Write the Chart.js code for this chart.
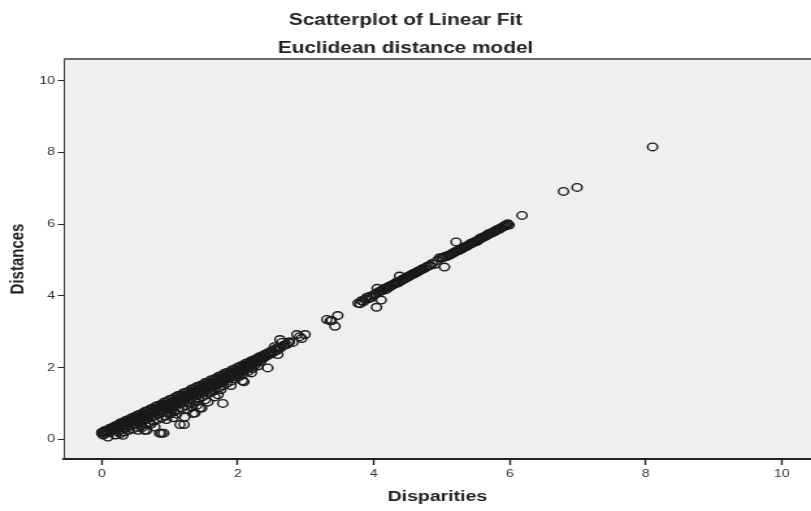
<!DOCTYPE html>
<html>
<head>
<meta charset="utf-8">
<title>Scatterplot of Linear Fit</title>
<script src="https://cdn.jsdelivr.net/npm/chart.js@4.4.1/dist/chart.umd.min.js"></script>
<style>
  html, body { margin: 0; padding: 0; background: #fff; }
  /* the reference is stretched sideways, so the canvas is drawn narrow and widened */
  #scatter { display: block; width: 811px !important; height: 511px !important; }
</style>
</head>
<body>
<canvas id="scatter" width="624" height="511" style="width:811px;height:511px"></canvas>
<script>
// [disparity, distance] pairs
const upperRow = [
  [0.00,0.19],[0.04,0.24],[0.08,0.26],[0.12,0.31],[0.16,0.33],[0.20,0.38],[0.24,0.41],[0.28,0.46],
  [0.32,0.48],[0.36,0.53],[0.40,0.55],[0.44,0.60],[0.48,0.62],[0.52,0.67],[0.56,0.70],[0.60,0.73],
  [0.64,0.78],[0.68,0.80],[0.72,0.85],[0.76,0.87],[0.80,0.93],[0.84,0.95],[0.88,0.98],[0.92,1.04],
  [0.96,1.05],[1.00,1.11],[1.04,1.13],[1.08,1.17],[1.12,1.22],[1.16,1.23],[1.20,1.29],[1.24,1.31],
  [1.28,1.34],[1.32,1.40],[1.36,1.41],[1.40,1.47],[1.44,1.49],[1.48,1.52],[1.52,1.58],[1.56,1.59],
  [1.60,1.65],[1.64,1.67],[1.68,1.70],[1.72,1.76],[1.76,1.78],[1.80,1.83],[1.84,1.86],[1.88,1.88],
  [1.92,1.94],[1.96,1.96],[2.00,2.01],[2.04,2.04],[2.08,2.07],[2.12,2.12],[2.16,2.14],[2.20,2.19],
  [2.24,2.22],[2.28,2.25],[2.32,2.30],[2.36,2.33],[2.40,2.37],[2.45,2.42],[2.50,2.47],[2.55,2.52],
  [2.60,2.56]
];
const innerRowA = [
  [0.03,0.20],[0.07,0.22],[0.11,0.26],[0.15,0.29],[0.19,0.32],[0.23,0.35],[0.27,0.39],[0.31,0.42],
  [0.35,0.46],[0.39,0.48],[0.43,0.52],[0.47,0.56],[0.51,0.59],[0.55,0.62],[0.59,0.66],[0.63,0.69],
  [0.67,0.72],[0.71,0.76],[0.75,0.79],[0.79,0.83],[0.83,0.86],[0.87,0.90],[0.91,0.93],[0.95,0.97],
  [0.99,1.00],[1.03,1.04],[1.07,1.07],[1.11,1.11],[1.15,1.14],[1.19,1.18],[1.23,1.22],[1.27,1.25],
  [1.31,1.29],[1.35,1.32],[1.39,1.36],[1.43,1.40],[1.47,1.43],[1.51,1.47],[1.55,1.51],[1.59,1.54],
  [1.63,1.58],[1.67,1.62],[1.71,1.66],[1.75,1.69],[1.79,1.73],[1.83,1.77],[1.87,1.81],[1.91,1.84],
  [1.95,1.88],[1.99,1.92],[2.03,1.96],[2.07,2.00],[2.11,2.04],[2.15,2.08],[2.19,2.12],[2.23,2.16],
  [2.27,2.20],[2.31,2.24],[2.35,2.28],[2.39,2.32],[2.44,2.37],[2.49,2.42],[2.56,2.47],[2.63,2.55],
  [2.69,2.63],[2.75,2.69]
];
const middleRow = [
  [0.02,0.12],[0.06,0.16],[0.10,0.19],[0.14,0.22],[0.18,0.25],[0.22,0.28],[0.26,0.32],[0.30,0.35],
  [0.34,0.38],[0.38,0.42],[0.42,0.45],[0.46,0.49],[0.50,0.51],[0.54,0.55],[0.58,0.58],[0.62,0.62],
  [0.66,0.65],[0.70,0.68],[0.74,0.72],[0.78,0.75],[0.82,0.79],[0.86,0.82],[0.90,0.86],[0.94,0.89],
  [0.98,0.92],[1.02,0.96],[1.06,1.00],[1.10,1.03],[1.14,1.07],[1.18,1.10],[1.22,1.14],[1.26,1.18],
  [1.30,1.21],[1.34,1.25],[1.38,1.28],[1.42,1.32],[1.46,1.36],[1.50,1.39],[1.54,1.43],[1.58,1.47],
  [1.62,1.50],[1.66,1.54],[1.70,1.58],[1.74,1.62],[1.78,1.65],[1.82,1.69],[1.86,1.73],[1.90,1.77],
  [1.94,1.81],[1.98,1.85],[2.02,1.89],[2.06,1.93],[2.10,1.98],[2.14,2.02],[2.18,2.06],[2.22,2.10],
  [2.26,2.14],[2.30,2.19],[2.34,2.23],[2.38,2.27],[2.42,2.31],[2.48,2.37],[2.53,2.43],[2.58,2.48]
];
const innerRowB = [
  [0.24,0.22],[0.30,0.27],[0.36,0.32],[0.43,0.37],[0.49,0.41],[0.55,0.46],[0.61,0.51],[0.67,0.56],
  [0.73,0.61],[0.79,0.66],[0.85,0.71],[0.91,0.77],[0.97,0.82],[1.03,0.88],[1.09,0.93],[1.15,0.99],
  [1.21,1.05],[1.27,1.11],[1.33,1.17],[1.39,1.22],[1.45,1.28],[1.51,1.34],[1.57,1.40],[1.63,1.45],
  [1.69,1.51],[1.75,1.57],[1.81,1.63],[1.87,1.69],[1.93,1.75],[1.99,1.81],[2.05,1.87],[2.12,1.94],
  [2.19,2.01],[2.26,2.08],[2.34,2.17]
];
const lowerRow = [
  [0.20,0.12],[0.27,0.16],[0.33,0.20],[0.40,0.25],[0.46,0.29],[0.52,0.33],[0.58,0.37],[0.64,0.42],
  [0.70,0.46],[0.76,0.51],[0.82,0.55],[0.88,0.60],[0.94,0.65],[1.00,0.70],[1.06,0.76],[1.12,0.82],
  [1.18,0.88],[1.24,0.94],[1.30,1.00],[1.36,1.06],[1.42,1.12],[1.48,1.18],[1.54,1.24],[1.60,1.30],
  [1.66,1.36],[1.72,1.43],[1.78,1.49],[1.84,1.56],[1.90,1.62],[1.96,1.68],[2.02,1.75],[2.08,1.82],
  [2.15,1.89],[2.22,1.97],[2.30,2.05]
];
const strays = [
  [0.00,0.17],[0.02,0.19],[0.09,0.06],[0.31,0.11],[0.53,0.25],[0.63,0.25],[0.66,0.25],[0.78,0.34],
  [0.85,0.17],[0.88,0.17],[0.91,0.17],[1.03,0.81],[1.15,0.41],[1.21,0.41],[1.22,0.62],[1.34,0.72],
  [1.37,0.73],[1.44,0.87],[1.47,0.87],[1.32,0.90],[1.56,1.04],[1.62,1.32],[1.71,1.24],[1.78,1.00],
  [2.07,1.63],[2.09,1.60],[2.44,1.99],[2.59,2.36],[2.54,2.58],[2.62,2.78],[2.65,2.70],[2.68,2.62],
  [2.72,2.64],[2.76,2.72],[2.81,2.70],[2.87,2.92],[2.91,2.86],[2.94,2.81],[2.99,2.92],
  [0.60,0.33],[0.72,0.42],[0.95,0.55],[1.05,0.60],[1.10,0.70],[1.26,0.83],[1.40,0.95],[1.52,1.10],
  [1.66,1.18],[1.75,1.38],[1.90,1.50],[2.20,1.85]
];
const upperBand = [
  [3.31,3.34],[3.36,3.30],[3.38,3.31],[3.43,3.15],[3.47,3.45],[3.77,3.79],[3.80,3.78],[3.85,3.84],
  [3.90,3.96],[3.93,3.92],[3.97,3.95],[4.04,3.68],[4.11,3.88],[4.02,4.05],[4.05,4.21],[4.08,4.12],
  [4.12,4.14],[4.15,4.20],[4.18,4.17],[4.21,4.25],[4.24,4.27],[4.27,4.30],[4.30,4.33],[4.33,4.37],
  [4.36,4.36],[4.38,4.55],[4.40,4.42],[4.43,4.47],[4.46,4.48],[4.49,4.53],[4.52,4.55],[4.55,4.58],
  [4.58,4.62],[4.61,4.63],[4.64,4.67],[4.67,4.70],[4.70,4.73],[4.74,4.76],[4.80,4.83],[4.86,4.90],
  [4.90,4.88],[4.93,4.98],[4.97,5.06],[5.04,4.80],[5.00,5.05],[5.05,5.10],[5.09,5.12],[5.13,5.15],
  [5.17,5.20],[5.21,5.50],[5.21,5.24],[5.25,5.26],[5.29,5.30],[5.33,5.35],[5.37,5.38],[5.41,5.44],
  [5.44,5.47],[5.48,5.50],[5.52,5.52],[5.55,5.58],[5.58,5.62],[5.62,5.64],[5.65,5.67],[5.68,5.72],
  [5.72,5.74],[5.75,5.77],[5.78,5.80],[5.81,5.84],[5.85,5.86],[5.88,5.90],[5.91,5.93],[5.94,5.95],
  [5.97,6.01],[5.99,5.97]
];
const upperBandInner = [
  [3.82,3.86],[3.87,3.90],[3.95,3.99],[4.00,4.02],[4.06,4.09],[4.10,4.13],[4.14,4.18],[4.19,4.22],
  [4.23,4.24],[4.26,4.29],[4.29,4.31],[4.32,4.34],[4.35,4.39],[4.39,4.41],[4.42,4.44],[4.45,4.47],
  [4.48,4.50],[4.51,4.53],[4.54,4.57],[4.57,4.59],[4.60,4.62],[4.63,4.66],[4.66,4.68],[4.69,4.72],
  [4.72,4.75],[4.77,4.80],[4.83,4.85],[5.02,5.07],[5.07,5.09],[5.11,5.13],[5.15,5.17],[5.19,5.21],
  [5.23,5.25],[5.27,5.29],[5.31,5.33],[5.35,5.37],[5.39,5.41],[5.43,5.45],[5.46,5.48],[5.50,5.52],
  [5.54,5.56],[5.57,5.59],[5.60,5.62],[5.64,5.66],[5.67,5.69],[5.70,5.73],[5.74,5.76],[5.77,5.79],
  [5.80,5.82],[5.83,5.85],[5.86,5.88],[5.90,5.92],[5.93,5.96],[5.96,5.98]
];
const farPoints = [[6.18,6.24],[6.79,6.91],[6.99,7.02],[8.10,8.15]];

const xTicks = [0, 2, 4, 6, 8, 10];
const yTicks = [0, 2, 4, 6, 8, 10];

const allPoints = [].concat(upperRow, innerRowA, middleRow, innerRowB, lowerRow, strays,
  upperBand, upperBandInner, farPoints).map(p => ({ x: p[0], y: p[1] }));

const plotBackground = {
  id: 'plotBackground',
  beforeDraw(chart) {
    const { ctx, chartArea: a } = chart;
    ctx.save();
    ctx.fillStyle = '#eef0ef';
    ctx.fillRect(a.left, a.top, a.right - a.left, a.bottom - a.top);
    ctx.restore();
  },
  afterDraw(chart) {
    const { ctx, chartArea: a } = chart;
    ctx.save();
    ctx.strokeStyle = '#6b6b6b';
    ctx.lineWidth = 2;
    ctx.beginPath();
    ctx.moveTo(a.left, a.top);
    ctx.lineTo(a.right, a.top);
    ctx.stroke();
    ctx.restore();
  }
};

const tickFont = { family: 'Liberation Sans, Arial, sans-serif', size: 11 };
const boldFont = (size) => ({ family: 'Liberation Sans, Arial, sans-serif', size: size, weight: 'bold' });

new Chart(document.getElementById('scatter').getContext('2d'), {
  type: 'scatter',
  data: {
    datasets: [{
      label: 'Distances',
      data: allPoints,
      pointRadius: 3.8,
      pointHoverRadius: 3.8,
      pointBorderWidth: 1.4,
      pointBorderColor: '#1a1a1a',
      pointBackgroundColor: 'rgba(0,0,0,0)'
    }]
  },
  options: {
    responsive: false,
    animation: false,
    layout: { padding: 0, autoPadding: false },
    plugins: {
      legend: { display: false },
      tooltip: { enabled: false },
      title: {
        display: true,
        text: 'Scatterplot of Linear Fit',
        color: '#222',
        font: boldFont(16),
        padding: { top: 11, bottom: 4.2 }
      },
      subtitle: {
        display: true,
        text: 'Euclidean distance model',
        color: '#222',
        font: boldFont(16),
        padding: { top: 4.5, bottom: 0.9 }
      }
    },
    scales: {
      x: {
        type: 'linear',
        min: -0.56,
        max: 10.43,
        afterBuildTicks: (scale) => { scale.ticks = xTicks.map(v => ({ value: v })); },
        afterFit: (scale) => { scale.height = 52; },
        ticks: { color: '#333', font: tickFont, padding: 2 },
        grid: { drawOnChartArea: false, tickLength: 6, tickColor: '#222', tickWidth: 1.4 },
        border: { display: true, color: '#222', width: 2 },
        title: { display: true, text: 'Disparities', color: '#222', font: boldFont(15), padding: { top: 0, bottom: 5 } }
      },
      y: {
        type: 'linear',
        min: -0.55,
        max: 10.6,
        afterBuildTicks: (scale) => { scale.ticks = yTicks.map(v => ({ value: v })); },
        afterFit: (scale) => { scale.width = 49; },
        ticks: { color: '#333', font: tickFont, padding: 2 },
        grid: { drawOnChartArea: false, tickLength: 4.6, tickColor: '#222', tickWidth: 1 },
        border: { display: true, color: '#333', width: 1 },
        title: { display: true, text: 'Distances', color: '#222', font: boldFont(15), padding: { top: 5, bottom: 0 } }
      }
    }
  },
  plugins: [plotBackground]
});
</script>
</body>
</html>
